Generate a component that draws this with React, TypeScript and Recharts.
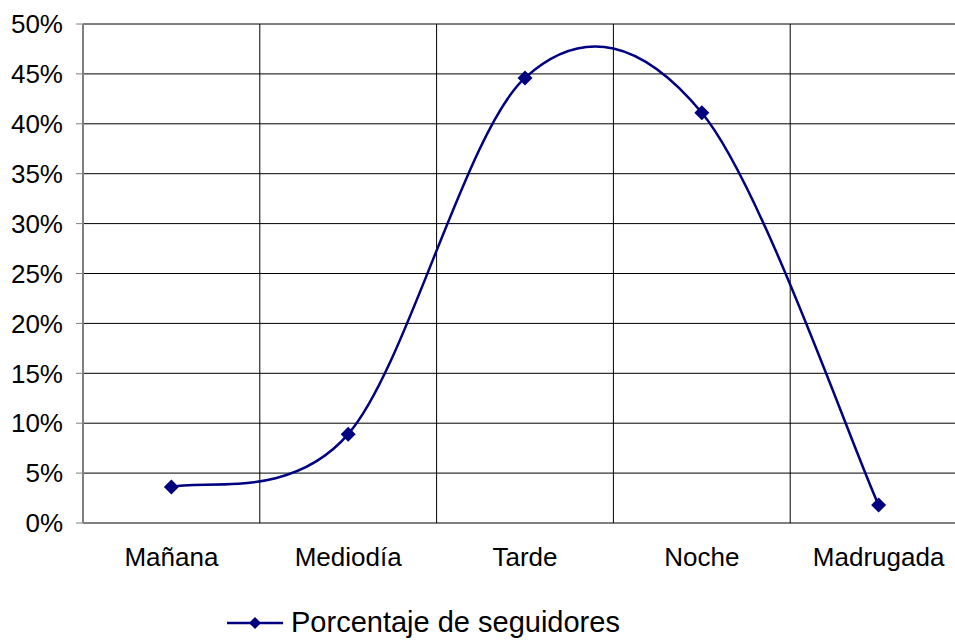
import { LineChart, Line, XAxis, YAxis, CartesianGrid, Legend } from "recharts";

const categories = ["Mañana", "Mediodía", "Tarde", "Noche", "Madrugada"];
const followerShare = [3.6, 8.9, 44.6, 41.1, 1.8];
const percentTicks = [0, 5, 10, 15, 20, 25, 30, 35, 40, 45, 50];
const seriesName = "Porcentaje de seguidores";

const NAVY = "#000080";
const FONT = "'Liberation Sans', Arial, sans-serif";

const data = categories.map((name, i) => ({ name, slot: i + 0.5, share: followerShare[i] }));
const boundaryTicks = [...categories.map((_, i) => i), categories.length];
const centerTicks = data.map(d => d.slot);

// smoothed line like the spreadsheet one (catmull-rom through the points)
function smoothCurve(context: any) {
  let pts: [number, number][] = [];
  return {
    areaStart() {},
    areaEnd() {},
    lineStart() { pts = []; },
    point(x: number, y: number) { pts.push([x, y]); },
    lineEnd() {
      if (!pts.length) return;
      context.moveTo(pts[0][0], pts[0][1]);
      for (let i = 0; i < pts.length - 1; i++) {
        const p0 = pts[i - 1] || pts[i];
        const p1 = pts[i];
        const p2 = pts[i + 1];
        const p3 = pts[i + 2] || p2;
        context.bezierCurveTo(
          p1[0] + (p2[0] - p0[0]) / 6, p1[1] + (p2[1] - p0[1]) / 6,
          p2[0] - (p3[0] - p1[0]) / 6, p2[1] - (p3[1] - p1[1]) / 6,
          p2[0], p2[1]
        );
      }
    },
  };
}

// vertical grid lines sit on the category boundaries, not the centres
const boundaryLines = ({ xAxis, offset }: any) =>
  boundaryTicks.map(t =>
    xAxis && typeof xAxis.scale === "function"
      ? xAxis.scale(t)
      : offset.left + (offset.width * t) / categories.length
  );

const Diamond = ({ cx, cy }: any) => {
  if (cx == null || cy == null) return null;
  const r = 7.5;
  return <path d={`M${cx},${cy - r}L${cx + r},${cy}L${cx},${cy + r}L${cx - r},${cy}Z`} fill={NAVY} />;
};

const LegendContent = () => (
  <div style={{ display: "flex", alignItems: "center", fontFamily: FONT }}>
    <svg width={56} height={16}>
      <line x1={0} y1={8} x2={56} y2={8} stroke={NAVY} strokeWidth={2.5} />
      <path d="M28,2L34,8L28,14L22,8Z" fill={NAVY} />
    </svg>
    <span style={{ fontSize: 29, marginLeft: 8, color: "#000", whiteSpace: "nowrap" }}>{seriesName}</span>
  </div>
);

export default function App() {
  const tick = { fill: "#000", fontSize: 26, fontFamily: FONT };
  return (
    <div style={{ position: "fixed", left: 0, top: 0, width: 955, height: 641, overflow: "hidden", background: "#fff" }}>
      <LineChart width={967} height={641} data={data} margin={{ top: 24, right: 0, left: 0, bottom: 18 }} style={{ fontFamily: FONT }}>
        <CartesianGrid xAxisId="grid" stroke="#000" strokeWidth={1} verticalCoordinatesGenerator={boundaryLines} />
        <XAxis xAxisId="grid" type="number" dataKey="slot" domain={[0, categories.length]} ticks={boundaryTicks}
          tickFormatter={() => ""} tickSize={7} height={0} interval={0}
          axisLine={{ stroke: "#808080", strokeWidth: 2 }} tickLine={{ stroke: "#808080" }} />
        <XAxis xAxisId="cat" type="number" dataKey="slot" domain={[0, categories.length]} ticks={centerTicks}
          tickFormatter={v => categories[Math.floor(v)]} tick={tick} axisLine={false} tickLine={false}
          tickSize={6} tickMargin={19} height={67} interval={0} />
        <YAxis domain={[0, 50]} ticks={percentTicks} tickFormatter={v => `${v}%`} tick={tick} width={83}
          tickSize={7} tickMargin={13} axisLine={{ stroke: "#808080", strokeWidth: 2 }} tickLine={{ stroke: "#808080" }} interval={0} />
        <Legend content={<LegendContent />} wrapperStyle={{ left: 227, top: 606, width: "auto", bottom: "auto" }} />
        <Line xAxisId="cat" dataKey="share" name={seriesName} type={smoothCurve as any} stroke={NAVY} strokeWidth={2.5}
          dot={<Diamond />} activeDot={false} isAnimationActive={false} />
      </LineChart>
    </div>
  );
}
